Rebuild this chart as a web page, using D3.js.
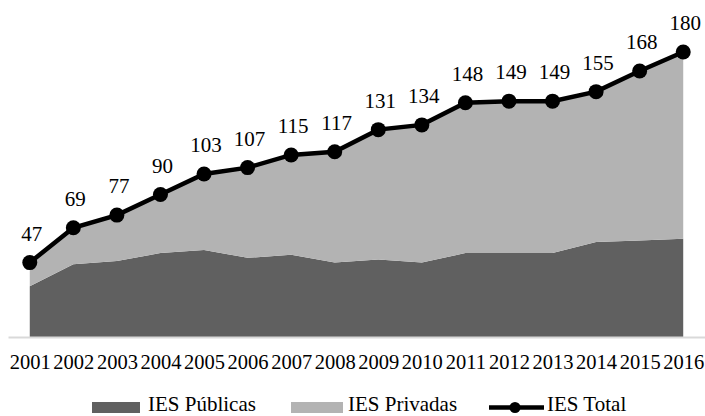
<!DOCTYPE html>
<html>
<head>
<meta charset="utf-8">
<script src="https://cdn.jsdelivr.net/npm/d3@7"></script>
<style>
  body { margin: 0; background: #fff; }
</style>
</head>
<body>
<svg id="chart" width="705" height="416"></svg>
<script>
const years = ["2001","2002","2003","2004","2005","2006","2007","2008","2009","2010","2011","2012","2013","2014","2015","2016"];
const totalIES = [47, 69, 77, 90, 103, 107, 115, 117, 131, 134, 148, 149, 149, 155, 168, 180];
const publicIES = [32, 46, 48, 53, 55, 50, 52, 47, 49, 47, 53, 53, 53, 60, 61, 62];
const privateIES = totalIES.map((t, i) => t - publicIES[i]);

const serif = "'Liberation Serif'";

const svg = d3.select("#chart");
const baseY = 337;

const x = d3.scalePoint().domain(years).range([8, 705]).padding(0.5);
const y = d3.scaleLinear().domain([0, 200]).range([baseY, baseY - 200 * 1.583]);

const rows = years.map((yr, i) => ({ year: yr, pub: publicIES[i], priv: privateIES[i], total: totalIES[i] }));
const stack = d3.stack().keys(["pub", "priv"])(rows);
const colors = { pub: "#606060", priv: "#b3b3b3" };

const area = d3.area()
  .x((d) => x(d.data.year))
  .y0((d) => y(d[0]))
  .y1((d) => y(d[1]));

svg.append("g")
  .selectAll("path")
  .data(stack)
  .enter()
  .append("path")
  .attr("d", area)
  .attr("fill", (s) => colors[s.key]);

// x axis
const xAxis = d3.axisBottom(x).tickSize(0).tickPadding(17);
const gX = svg.append("g")
  .attr("transform", "translate(0," + baseY + ")")
  .call(xAxis);
gX.select(".domain").attr("stroke", "#d9d9d9").attr("stroke-width", 2);
gX.selectAll(".tick text")
  .style("font-family", serif)
  .style("font-size", "20.5px")
  .attr("fill", "#000");

// total line
const line = d3.line().x((d) => x(d.year)).y((d) => y(d.total));
svg.append("path")
  .datum(rows)
  .attr("d", line)
  .attr("fill", "none")
  .attr("stroke", "#000")
  .attr("stroke-width", 4.5);

svg.append("g")
  .selectAll("circle")
  .data(rows)
  .enter()
  .append("circle")
  .attr("cx", (d) => x(d.year))
  .attr("cy", (d) => y(d.total))
  .attr("r", 7.5)
  .attr("fill", "#000");

svg.append("g")
  .selectAll("text")
  .data(rows)
  .enter()
  .append("text")
  .attr("x", (d) => x(d.year) + 2)
  .attr("y", (d) => y(d.total) - 22)
  .attr("text-anchor", "middle")
  .style("font-family", serif)
  .style("font-size", "21px")
  .text((d) => d.total);

// legend
const legend = svg.append("g");
const legY = 411;
const legText = (lx, label) =>
  legend.append("text").attr("x", lx).attr("y", legY)
    .style("font-family", serif).style("font-size", "21px").text(label);
legend.append("rect").attr("x", 92).attr("y", legY - 9).attr("width", 48).attr("height", 11).attr("fill", colors.pub);
legText(148, "IES Públicas");
legend.append("rect").attr("x", 291).attr("y", legY - 9).attr("width", 52).attr("height", 11).attr("fill", colors.priv);
legText(348, "IES Privadas");
legend.append("line").attr("x1", 489).attr("x2", 544).attr("y1", legY - 3.5).attr("y2", legY - 3.5)
  .attr("stroke", "#000").attr("stroke-width", 4.5);
legend.append("circle").attr("cx", 515).attr("cy", legY - 3.5).attr("r", 5.5).attr("fill", "#000");
legText(547, "IES Total");
</script>
</body>
</html>
